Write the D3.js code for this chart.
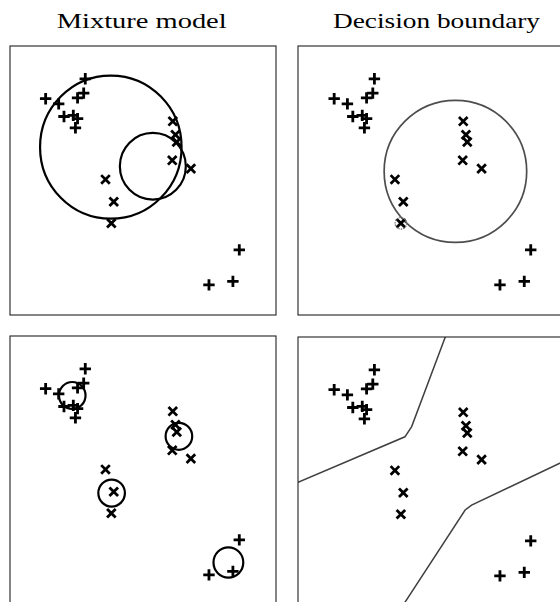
<!DOCTYPE html>
<html>
<head>
<meta charset="utf-8">
<script src="https://cdn.jsdelivr.net/npm/d3@7"></script>
<style>
  html, body { margin: 0; padding: 0; background: #fff; }
  svg { display: block; }
</style>
</head>
<body>
<svg id="chart" width="560" height="602"></svg>
<script>
// Class "+" samples
const plusX = [2.83, 2.77, 2.54, 1.34, 1.83, 2.03, 2.38, 2.54, 2.46, 8.62, 7.48, 8.38];
const plusY = [8.78, 8.25, 8.07, 8.04, 7.85, 7.38, 7.42, 7.30, 6.96, 2.42, 1.12, 1.25];

// Class "x" samples
const crossX = [6.12, 6.22, 6.27, 6.10, 6.80, 3.59, 3.90, 3.81];
const crossY = [7.20, 6.70, 6.43, 5.75, 5.44, 5.04, 4.21, 3.41];

// Two-component mixture fitted to the data
const mixCx = [3.79, 5.37];
const mixCy = [6.24, 5.53];
const mixR  = [2.66, 1.24];

// Resulting decision boundary (circle) and the point lying on it
const boundCx = [5.83];
const boundCy = [5.34];
const boundR  = [2.64];
const onBoundary = [7];

// Local components, one per cluster
const localCx = [2.34, 6.35, 3.82, 8.21];
const localCy = [7.79, 6.27, 4.16, 1.58];
const localR  = [0.50, 0.50, 0.50, 0.56];

// Piecewise boundaries from the local model
const lineAx = [0.00, 3.96, 4.21, 5.47];
const lineAy = [4.60, 6.29, 6.67, 10.04];
const lineBx = [10.2, 6.43, 6.19, 3.84];
const lineBy = [5.55, 3.75, 3.57, -0.05];

const titles = ["Mixture model", "Decision boundary"];

const svg = d3.select("#chart");
svg.append("rect").attr("width", 560).attr("height", 602).attr("fill", "#fff");

const panels = [
  { id: "p0", x0: 10,  y0: 46,  w: 266, h: 269 },
  { id: "p1", x0: 298, y0: 46,  w: 270, h: 269 },
  { id: "p2", x0: 10,  y0: 336, w: 266, h: 269 },
  { id: "p3", x0: 298, y0: 337, w: 270, h: 269 }
];

const defs = svg.append("defs");

function makePanel(p) {
  const x = d3.scaleLinear().domain([0, 10]).range([p.x0, p.x0 + p.w]);
  const y = d3.scaleLinear().domain([0, 10]).range([p.y0 + p.h, p.y0]);
  defs.append("clipPath").attr("id", "clip-" + p.id)
    .append("rect").attr("x", p.x0).attr("y", p.y0).attr("width", p.w).attr("height", p.h);
  const g = svg.append("g");
  const inner = g.append("g").attr("clip-path", "url(#clip-" + p.id + ")");
  g.append("rect")
    .attr("x", p.x0).attr("y", p.y0).attr("width", p.w).attr("height", p.h)
    .attr("fill", "none").attr("stroke", "#222").attr("stroke-width", 1.1);
  return { x, y, g, inner };
}

function drawPoints(P) {
  const plusData = plusX.map((v, i) => ({ x: v, y: plusY[i] }));
  const crossData = crossX.map((v, i) => ({ x: v, y: crossY[i] }));
  P.inner.selectAll(".plus").data(plusData).join("path")
    .attr("class", "plus")
    .attr("transform", d => `translate(${P.x(d.x)},${P.y(d.y)})`)
    .attr("d", "M-5.7,0H5.7M0,-5.7V5.7")
    .attr("stroke", "#000").attr("stroke-width", 2.8).attr("fill", "none");
  P.inner.selectAll(".cross").data(crossData).join("path")
    .attr("class", "cross")
    .attr("transform", d => `translate(${P.x(d.x)},${P.y(d.y)})`)
    .attr("d", "M-4.3,-4.3L4.3,4.3M-4.3,4.3L4.3,-4.3")
    .attr("stroke", "#000").attr("stroke-width", 2.8).attr("fill", "none");
}

function drawCircles(P, cx, cy, r, color, width) {
  const data = cx.map((v, i) => ({ cx: v, cy: cy[i], r: r[i] }));
  P.inner.selectAll(null).data(data).join("ellipse")
    .attr("cx", d => P.x(d.cx)).attr("cy", d => P.y(d.cy))
    .attr("rx", d => P.x(d.r) - P.x(0)).attr("ry", d => P.y(0) - P.y(d.r))
    .attr("fill", "none").attr("stroke", color).attr("stroke-width", width);
}

function drawLine(P, xs, ys) {
  const pts = xs.map((v, i) => [v, ys[i]]);
  const line = d3.line().x(d => P.x(d[0])).y(d => P.y(d[1]));
  P.inner.append("path").attr("d", line(pts))
    .attr("fill", "none").attr("stroke", "#404040").attr("stroke-width", 1.5);
}

// Top left: mixture model
const A = makePanel(panels[0]);
drawPoints(A);
drawCircles(A, mixCx, mixCy, mixR, "#000", 2.2);

// Top right: decision boundary of the mixture
const B = makePanel(panels[1]);
drawCircles(B, boundCx, boundCy, boundR, "#4d4d4d", 1.7);
drawPoints(B);
B.inner.selectAll(".mark").data(onBoundary).join("circle")
  .attr("class", "mark")
  .attr("cx", i => B.x(crossX[i])).attr("cy", i => B.y(crossY[i]))
  .attr("r", 5.8).attr("fill", "none")
  .attr("stroke", "#777").attr("stroke-width", 1.3).attr("stroke-dasharray", "1.5,1");

// Bottom left: local components
const C = makePanel(panels[2]);
drawPoints(C);
drawCircles(C, localCx, localCy, localR, "#000", 2.2);

// Bottom right: piecewise decision boundary
const D = makePanel(panels[3]);
drawLine(D, lineAx, lineAy);
drawLine(D, lineBx, lineBy);
drawPoints(D);

// Column titles
const titleX = [141.7, 436.5];
svg.selectAll(".title").data(titles).join("text")
  .attr("class", "title")
  .attr("x", (d, i) => titleX[i]).attr("y", 28)
  .attr("text-anchor", "middle")
  .attr("font-family", "'Liberation Serif', 'DejaVu Serif', serif")
  .attr("font-size", 21)
  .attr("textLength", (d, i) => i === 0 ? 170 : 207)
  .attr("lengthAdjust", "spacingAndGlyphs")
  .attr("fill", "#000")
  .text(d => d);
</script>
</body>
</html>
